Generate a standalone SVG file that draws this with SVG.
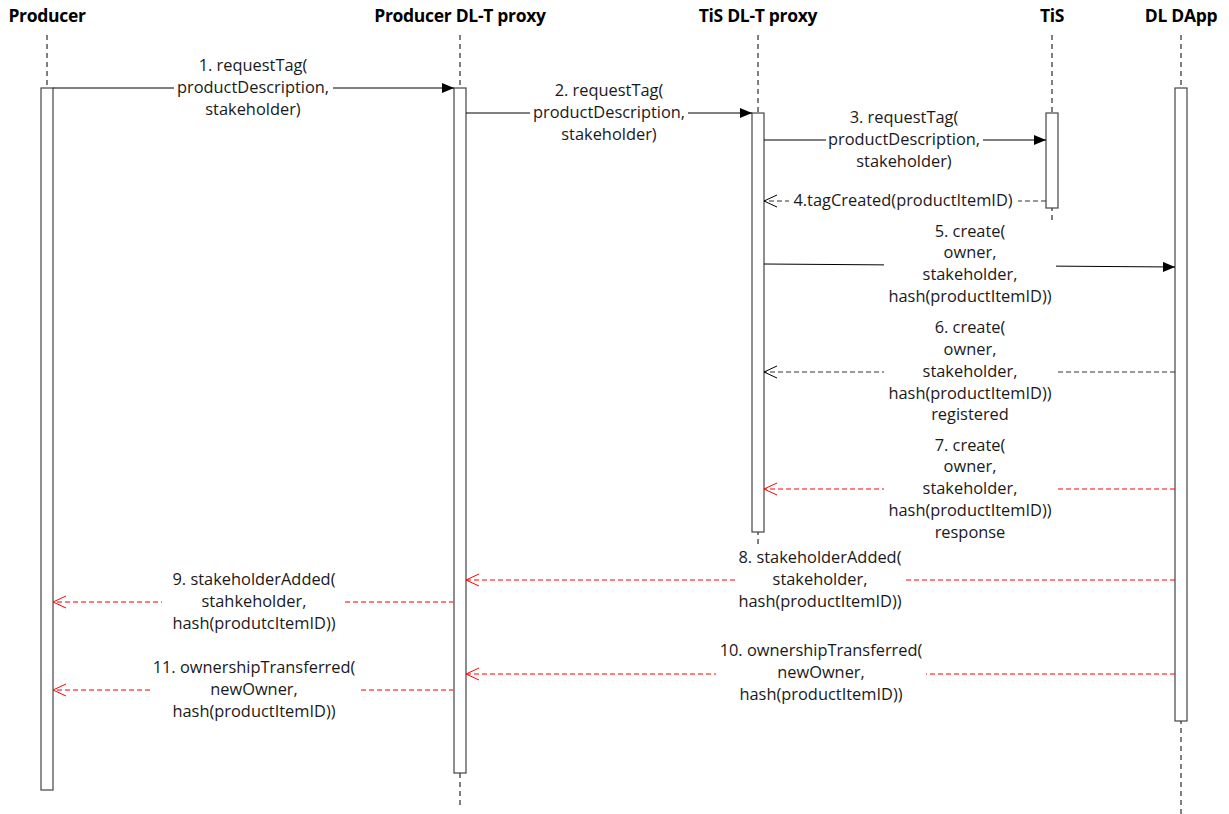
<svg xmlns="http://www.w3.org/2000/svg" width="1229" height="814" viewBox="0 0 1229 814">
<style>
.hdr{font-family:"Open Sans","Noto Sans",sans-serif;font-size:17.5px;font-weight:bold;fill:#000;text-anchor:middle;letter-spacing:-0.3px}
.lbl{font-family:"Open Sans","Noto Sans",sans-serif;font-size:16.4px;fill:#1a1a1a;text-anchor:middle}
.life{stroke:#000;stroke-width:1;stroke-dasharray:5,4;fill:none}
.act{fill:#fff;stroke:#444;stroke-width:1.2}
.sync{stroke:#000;stroke-width:1;fill:none;marker-end:url(#filled)}
.ret{stroke:#333;stroke-width:1;stroke-dasharray:5,3;fill:none;marker-end:url(#openBlk)}
.retr{stroke:#ff0000;stroke-width:1;stroke-dasharray:5,3;fill:none;marker-end:url(#openRed)}
.retl{stroke:#ff5050;stroke-width:1.3;stroke-dasharray:5,3;fill:none;marker-end:url(#openRed)}
.bg{fill:#fff}
</style>
<defs>
<marker id="filled" markerWidth="12" markerHeight="10" refX="12" refY="5" orient="auto" markerUnits="userSpaceOnUse">
<path d="M0,0 L12,5 L0,10 Z" fill="#000"/>
</marker>
<marker id="openBlk" markerWidth="14" markerHeight="14" refX="13" refY="7" orient="auto" markerUnits="userSpaceOnUse">
<path d="M0,1 L13,7 L0,13" fill="none" stroke="#000" stroke-width="1"/>
</marker>
<marker id="openRed" markerWidth="14" markerHeight="14" refX="13" refY="7" orient="auto" markerUnits="userSpaceOnUse">
<path d="M0,1 L13,7 L0,13" fill="none" stroke="#ff0000" stroke-width="1"/>
</marker>
</defs>
<rect width="1229" height="814" fill="#fff"/>

<g id="producer">
<text class="hdr" x="47" y="22">Producer</text>
<line class="life" x1="47" y1="35" x2="47" y2="88"/>
<rect class="act" x="41" y="88" width="12" height="702"/>
</g>
<g id="producer-dlt-proxy">
<text class="hdr" x="460" y="22">Producer DL-T proxy</text>
<line class="life" x1="460" y1="35" x2="460" y2="808"/>
<rect class="act" x="454" y="88" width="12" height="685"/>
</g>
<g id="tis-dlt-proxy">
<text class="hdr" x="758" y="22">TiS DL-T proxy</text>
<line class="life" x1="758" y1="35" x2="758" y2="546"/>
<rect class="act" x="752" y="113" width="12" height="419"/>
</g>
<g id="tis">
<text class="hdr" x="1052" y="22">TiS</text>
<line class="life" x1="1052" y1="35" x2="1052" y2="224"/>
<rect class="act" x="1046" y="113" width="12" height="95"/>
</g>
<g id="dl-dapp">
<text class="hdr" x="1181" y="22">DL DApp</text>
<line class="life" x1="1181" y1="35" x2="1181" y2="814"/>
<rect class="act" x="1175" y="88" width="12" height="633"/>
</g>

<g id="connectors">
<g id="m1">
<line class="sync" x1="53" y1="88" x2="454" y2="88"/>
<rect class="bg" x="174" y="57" width="159" height="62"/>
<text class="lbl" x="253" y="71">1. requestTag(</text>
<text class="lbl" x="253" y="93">productDescription,</text>
<text class="lbl" x="253" y="115">stakeholder)</text>
</g>
<g id="m2">
<line class="sync" x1="466" y1="113" x2="752" y2="113"/>
<rect class="bg" x="530" y="82" width="158" height="62"/>
<text class="lbl" x="609" y="96">2. requestTag(</text>
<text class="lbl" x="609" y="118">productDescription,</text>
<text class="lbl" x="609" y="140">stakeholder)</text>
</g>
<g id="m3">
<line class="sync" x1="764" y1="140" x2="1046" y2="140"/>
<rect class="bg" x="826" y="108" width="157" height="63"/>
<text class="lbl" x="904" y="123">3. requestTag(</text>
<text class="lbl" x="904" y="145">productDescription,</text>
<text class="lbl" x="904" y="167">stakeholder)</text>
</g>
<g id="m4">
<line class="ret" x1="1046" y1="201" x2="764" y2="201"/>
<rect class="bg" x="789" y="192" width="229" height="18"/>
<text class="lbl" x="903" y="206">4.tagCreated(productItemID)</text>
</g>
<g id="m5">
<line class="sync" x1="764" y1="264" x2="1175" y2="267"/>
<rect class="bg" x="884" y="222" width="172" height="84"/>
<text class="lbl" x="970" y="237">5. create(</text>
<text class="lbl" x="970" y="258">owner,</text>
<text class="lbl" x="970" y="280">stakeholder,</text>
<text class="lbl" x="970" y="302">hash(productItemID))</text>
</g>
<g id="m6">
<line class="ret" x1="1175" y1="372" x2="764" y2="372"/>
<rect class="bg" x="884" y="318" width="174" height="107"/>
<text class="lbl" x="970" y="333">6. create(</text>
<text class="lbl" x="970" y="355">owner,</text>
<text class="lbl" x="970" y="377">stakeholder,</text>
<text class="lbl" x="970" y="399">hash(productItemID))</text>
<text class="lbl" x="970" y="420">registered</text>
</g>
<g id="m7">
<line class="retr" x1="1175" y1="489" x2="764" y2="489"/>
<rect class="bg" x="884" y="436" width="174" height="107"/>
<text class="lbl" x="970" y="451">7. create(</text>
<text class="lbl" x="970" y="472">owner,</text>
<text class="lbl" x="970" y="494">stakeholder,</text>
<text class="lbl" x="970" y="516">hash(productItemID))</text>
<text class="lbl" x="970" y="538">response</text>
</g>
<g id="m8">
<line class="retr" x1="1175" y1="580" x2="466" y2="580"/>
<rect class="bg" x="735" y="549" width="170" height="62"/>
<text class="lbl" x="820" y="563">8. stakeholderAdded(</text>
<text class="lbl" x="820" y="585">stakeholder,</text>
<text class="lbl" x="820" y="607">hash(productItemID))</text>
</g>
<g id="m9">
<line class="retl" x1="454" y1="602" x2="53" y2="602"/>
<rect class="bg" x="162" y="571" width="180" height="62"/>
<text class="lbl" x="254" y="585">9. stakeholderAdded(</text>
<text class="lbl" x="254" y="607">stahkeholder,</text>
<text class="lbl" x="254" y="629">hash(produtcItemID))</text>
</g>
<g id="m10">
<line class="retr" x1="1175" y1="674" x2="466" y2="674"/>
<rect class="bg" x="716" y="642" width="210" height="62"/>
<text class="lbl" x="821" y="656">10. ownershipTransferred(</text>
<text class="lbl" x="821" y="678">newOwner,</text>
<text class="lbl" x="821" y="700">hash(productItemID))</text>
</g>
<g id="m11">
<line class="retl" x1="454" y1="690" x2="53" y2="690"/>
<rect class="bg" x="150" y="659" width="208" height="62"/>
<text class="lbl" x="254" y="673">11. ownershipTransferred(</text>
<text class="lbl" x="254" y="695">newOwner,</text>
<text class="lbl" x="254" y="717">hash(productItemID))</text>
</g>
</g>
</svg>
